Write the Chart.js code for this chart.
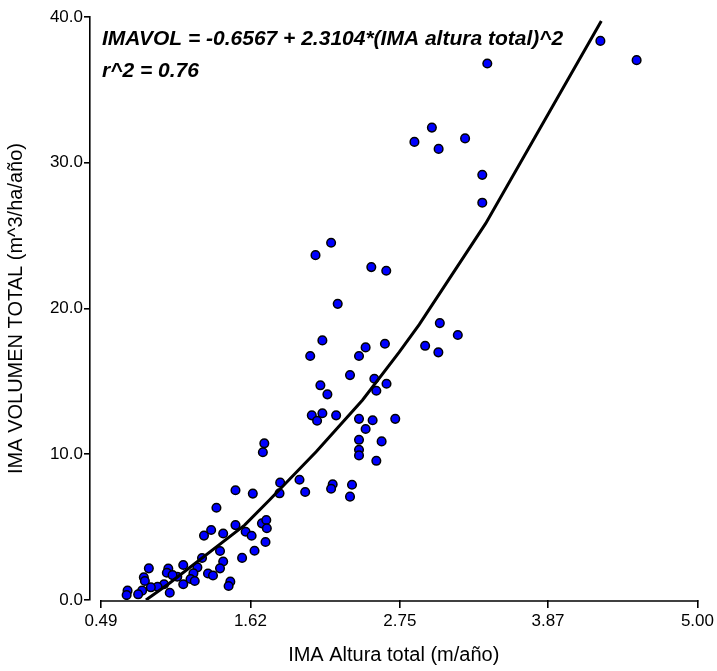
<!DOCTYPE html>
<html><head><meta charset="utf-8">
<script src="https://cdn.jsdelivr.net/npm/chart.js@4.4.1/dist/chart.umd.min.js"></script>
<style>html,body{margin:0;padding:0;background:#fff}#wrap{width:717px;height:671px;position:relative}</style>
</head><body><div id="wrap"><canvas id="c" width="717" height="671"></canvas></div>
<script>
const xTickValues = [0.49, 1.62, 2.75, 3.87, 5.00];
const xTickLabels = ["0.49", "1.62", "2.75", "3.87", "5.00"];
const yTickValues = [0, 10, 20, 30, 40];
const yTickLabels = ["0.0", "10.0", "20.0", "30.0", "40.0"];

const alturaX = [4.266,4.540,3.411,2.992,2.860,3.043,3.243,3.373,3.373,2.230,2.112,2.534,2.647,2.280,3.052,3.188,2.941,3.041,
 2.164,2.491,2.637,2.072,2.441,2.373,2.557,2.649,2.572,2.149,2.202,2.084,2.164,2.124,2.268,2.441,2.544,2.715,2.491,2.441,2.612,2.441,2.441,2.572,
 1.725,1.714,1.507,1.638,1.845,1.991,2.034,2.242,2.230,2.388,2.373,1.840,
 1.363,1.269,1.323,1.414,1.507,1.584,1.629,1.707,1.740,1.744,1.734,1.651,1.557,1.390,1.414,1.390,1.254,
 0.852,0.814,0.822,0.999,0.988,1.112,1.067,1.219,1.189,1.167,1.199,1.299,1.337,1.468,1.455,1.112,1.031,0.967,0.918,0.867,0.801,1.010,0.771,0.691,0.684];
const volumenY = [38.36,37.04,36.81,32.41,31.43,30.95,31.67,29.17,27.26,24.51,23.66,22.84,22.59,20.32,19.00,18.18,17.44,16.99,
 17.81,17.33,17.58,16.74,16.74,15.43,15.18,14.84,14.36,14.73,14.11,12.67,12.81,12.30,12.67,12.43,12.33,12.43,11.73,10.99,10.88,10.31,9.92,9.55,
 10.75,10.14,7.53,7.30,8.05,8.25,7.41,7.94,7.63,7.91,7.09,7.32,
 6.33,4.42,4.80,4.56,5.14,4.68,4.41,5.26,5.49,4.92,3.98,3.38,2.89,3.36,2.64,2.17,2.88,
 2.17,1.56,1.30,2.15,1.87,2.40,1.60,2.24,1.83,1.44,1.30,1.82,1.68,1.26,0.96,1.08,1.71,1.08,0.91,0.87,0.64,0.50,0.39,0.64,0.34];

const fitX = [0.83, 1.00, 1.576, 1.764, 2.117, 2.468, 2.745, 2.896, 3.399, 4.273];
const fitY = [0.00, 1.10, 5.14, 6.86, 10.17, 13.72, 17.00, 18.90, 25.84, 39.73];

const equationLines = ["IMAVOL = -0.6567 + 2.3104*(IMA altura total)^2", "r^2 = 0.76"];
const xTitle = "IMA Altura total (m/año)";
const yTitle = "IMA VOLUMEN TOTAL (m^3/ha/año)";

const FONT = "'Liberation Sans', Arial, sans-serif";

const xAxisLine = {
  id: 'xAxisLine',
  afterDraw(chart) {
    const ctx = chart.ctx, xs = chart.scales.x, a = chart.chartArea;
    ctx.save();
    ctx.strokeStyle = '#000'; ctx.lineWidth = 1.6;
    ctx.beginPath();
    ctx.moveTo(xs.getPixelForValue(xTickValues[0]) - 0.8, a.bottom + 1);
    ctx.lineTo(xs.getPixelForValue(xTickValues[xTickValues.length - 1]) + 0.8, a.bottom + 1);
    ctx.stroke();
    ctx.restore();
  }
};
const equation = {
  id: 'equation',
  afterDraw(chart) {
    const ctx = chart.ctx, a = chart.chartArea;
    ctx.save();
    ctx.fillStyle = '#000';
    ctx.font = "italic bold 21px " + FONT;
    ctx.textBaseline = 'alphabetic';
    ctx.fillText(equationLines[0], a.left + 12, a.top + 28);
    ctx.fillText(equationLines[1], a.left + 12, a.top + 60);
    ctx.restore();
  }
};

new Chart(document.getElementById('c'), {
  data: {
    datasets: [
      { type: 'line', data: fitX.map((x, i) => ({x, y: fitY[i]})), borderColor: '#000', borderWidth: 3,
        pointRadius: 0, tension: 0, fill: false, order: 0 },
      { type: 'scatter', data: alturaX.map((x, i) => ({x, y: volumenY[i]})), backgroundColor: '#0000ff',
        borderColor: '#000', borderWidth: 1.5, pointRadius: 4.3, order: 1 }
    ]
  },
  options: {
    responsive: false, animation: false, devicePixelRatio: 1,
    layout: { padding: { left: 0, top: 17, right: 18, bottom: 0 } },
    plugins: { legend: { display: false }, tooltip: { enabled: false } },
    scales: {
      x: {
        type: 'linear', min: 0.407, max: 5.0,
        afterBuildTicks: s => { s.ticks = xTickValues.map(v => ({ value: v })); },
        afterFit: s => { s.height = 71; },
        ticks: { callback: (v, i) => xTickLabels[i], color: '#000', font: { family: FONT, size: 17 },
                 padding: 3, maxRotation: 0, autoSkip: false },
        grid: { drawOnChartArea: false, drawTicks: true, tickLength: 8, color: '#000', lineWidth: 1.6 },
        border: { display: false },
        title: { display: true, text: xTitle, color: '#000', font: { family: FONT, size: 20 }, padding: { top: 4, bottom: 4 } }
      },
      y: {
        type: 'linear', min: 0, max: 40,
        afterBuildTicks: s => { s.ticks = yTickValues.map(v => ({ value: v })); },
        afterFit: s => { s.width = 90; },
        ticks: { callback: (v, i) => yTickLabels[i], color: '#000', font: { family: FONT, size: 17 }, padding: 1 },
        grid: { drawOnChartArea: false, drawTicks: true, tickLength: 6, color: '#000', lineWidth: 1.6 },
        border: { display: true, color: '#000', width: 1.6 },
        title: { display: true, text: yTitle, color: '#000', font: { family: FONT, size: 20 }, padding: { top: 4, bottom: 4 } }
      }
    }
  },
  plugins: [xAxisLine, equation]
});
</script>
</body></html>
